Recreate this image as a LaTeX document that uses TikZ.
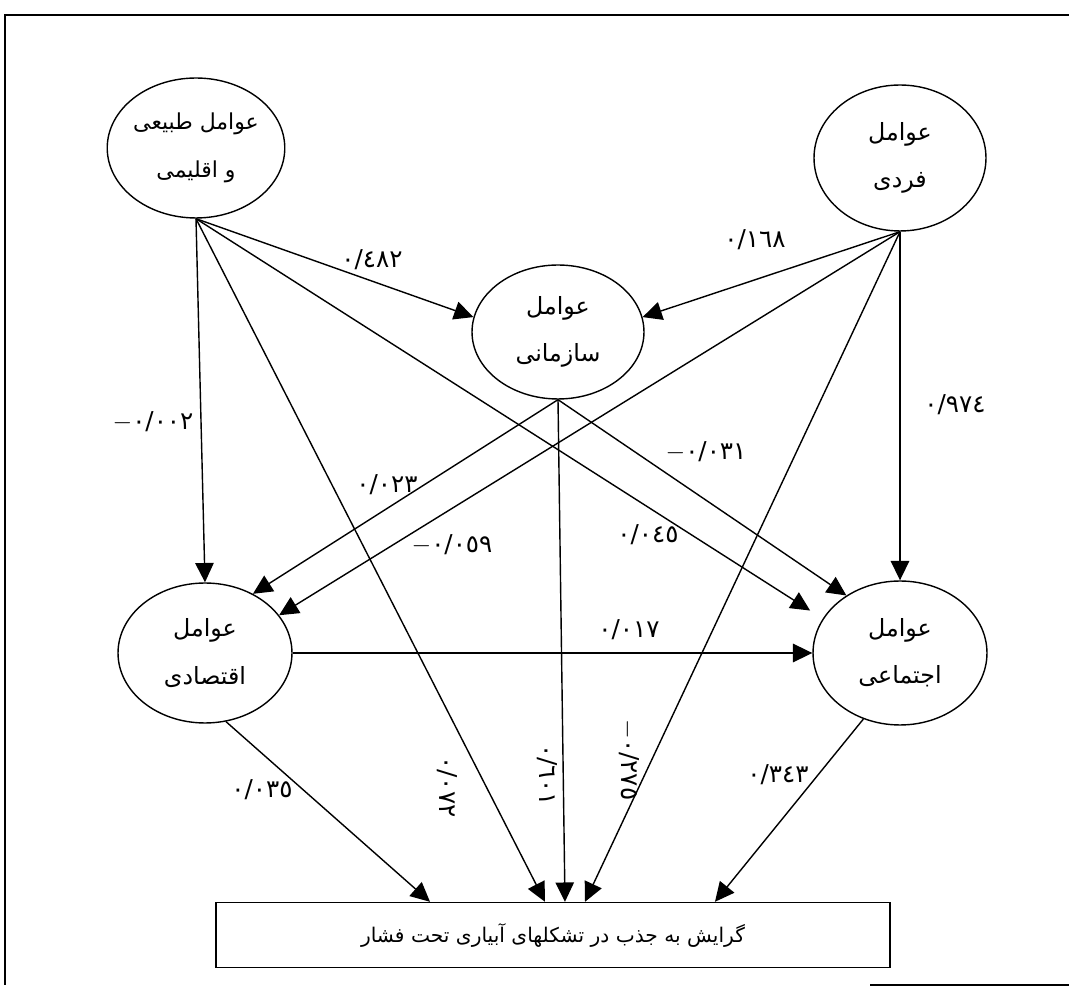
\documentclass[tikz,border=0pt]{standalone}
\usepackage{fontspec}
\usepackage{tikz}
\usetikzlibrary{arrows.meta}
\usetikzlibrary{shapes.geometric}
\TeXXeTstate=1
\newfontfamily\arabicfont[Script=Arabic]{DejaVu Sans}
\newcommand{\fa}[1]{{\arabicfont\beginR #1\endR}}
\newcommand{\num}[1]{{\arabicfont #1}}

\begin{document}
\begin{tikzpicture}[x=0.02cm, y=-0.02cm]
\tikzset{factor/.style={draw, ellipse, line width=0.8pt, inner sep=0pt, align=center, font=\arabicfont\fontsize{13.5}{16}\selectfont}}
\tikzset{coef/.style={font=\fontsize{14}{16}\selectfont, inner sep=1pt}}
\tikzstyle{pointer} = [-{Triangle[length=11pt,width=10.5pt]}, line width=0.8pt]
\useasboundingbox (0,0) rectangle (1069,999);
% frame
\draw [line width=1.5pt] (1069,15) -- (5,15) -- (5,985);
\draw [line width=1.5pt] (870,985) -- (1069,985);

% factors
\node [factor, minimum width=3.48cm, minimum height=2.8cm, font=\arabicfont\fontsize{12.5}{16}\selectfont] (nat) at (196,148) {\fa{عوامل طبیعی}\\[11pt]\fa{و اقلیمی}};
\node [factor, minimum width=3.44cm, minimum height=2.92cm] (ind) at (900,158) {\fa{عوامل}\\[11pt]\fa{فردی}};
\node [factor, minimum width=3.44cm, minimum height=2.68cm] (org) at (558,332) {\fa{عوامل}\\[11pt]\fa{سازمانی}};
\node [factor, minimum width=3.48cm, minimum height=2.8cm] (eco) at (205,653) {\fa{عوامل}\\[11pt]\fa{اقتصادی}};
\node [factor, minimum width=3.48cm, minimum height=2.88cm] (soc) at (900,653) {\fa{عوامل}\\[11pt]\fa{اجتماعی}};
\node [draw, line width=0.8pt, minimum width=13.48cm, minimum height=1.3cm, font=\arabicfont\fontsize{11.5}{14}\selectfont] (goal) at (553,935) {\fa{گرایش به جذب در تشکلهای آبیاری تحت فشار}};

% paths
\draw [pointer] (nat.south) -- (org.170);
\draw [pointer] (ind.south) -- (org.10);
\draw [pointer] (nat.south) -- (eco.north);
\draw [pointer] (ind.south) -- (soc.north);
\draw [pointer] (org.south) -- (eco.51);
\draw [pointer] (ind.south) -- (eco.27);
\draw [pointer, shorten >=0.3cm] (nat.south) -- (soc.156);
\draw [pointer] (org.south) -- (soc.133);
\draw [pointer] (eco.east) -- (soc.west);
\draw [pointer] (eco.-73) -- ([xshift=-2.46cm]goal.north);
\draw [pointer] (nat.south) -- ([xshift=-0.16cm]goal.north);
\draw [pointer] (org.south) -- ([xshift=0.24cm]goal.north);
\draw [pointer] (ind.south) -- ([xshift=0.64cm]goal.north);
\draw [pointer] (soc.-119) -- ([xshift=3.24cm]goal.north);

% coefficients
\node [coef] (p1) at (372,260) {\num{٠/٤٨٢}};
\node [coef] (p2) at (755,240) {\num{٠/١٦٨}};
\node [coef] (p3) at (153,422) {$-$\num{٠/٠٠٢}};
\node [coef] (p4) at (955,405) {\num{٠/٩٧٤}};
\node [coef] (p5) at (387,485) {\num{٠/٠٢٣}};
\node [coef] (p6) at (452,545) {$-$\num{٠/٠٥٩}};
\node [coef] (p7) at (706,452) {$-$\num{٠/٠٣١}};
\node [coef] (p8) at (648,535) {\num{٠/٠٤٥}};
\node [coef] (p9) at (629,630) {\num{٠/٠١٧}};
\node [coef] (p10) at (262,790) {\num{٠/٠٣٥}};
\node [coef, rotate=-90] (p11) at (447,787) {\num{٠/٠٧٢}};
\node [coef, rotate=-90] (p12) at (547,775) {\num{٠/٦٠١}};
\node [coef, rotate=-90] (p13) at (629,760) {$-$\num{٠/٢٧٥}};
\node [coef] (p14) at (778,775) {\num{٠/٣٤٣}};
\end{tikzpicture}
\end{document}
